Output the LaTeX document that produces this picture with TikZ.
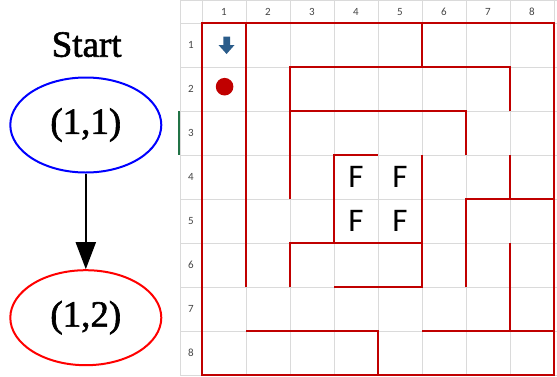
\documentclass[tikz,border=0pt]{standalone}
\usepackage{fontspec}
\setmainfont{Liberation Serif}
\newfontfamily\gvfont[FakeBold=1.6]{Liberation Serif}
\newfontfamily\cellfont{Carlito}
\usepackage{tikz}
\usetikzlibrary{arrows.meta, shapes.geometric}
\definecolor{wallred}{HTML}{C00000}
\definecolor{gridgray}{HTML}{DADADA}
\definecolor{iconblue}{HTML}{2A5C8A}
\definecolor{selgreen}{HTML}{217346}
\definecolor{hdrtext}{HTML}{444444}
\tikzset{
  gvtext/.style={font=\gvfont\fontsize{37}{37}\selectfont},
  cellnode/.style={gvtext, ellipse, draw, line width=2pt, minimum width=151pt, minimum height=95pt,
    inner sep=0pt},
  trans/.style={line width=2pt, -{Triangle[length=27pt, width=20pt]}},
  wall/.style={wallred, line width=2.8pt},
  gline/.style={gridgray, line width=0.8pt},
  hdr/.style={font=\cellfont\fontsize{11}{11}\selectfont, text=hdrtext, inner sep=0pt},
  goal/.style={font=\cellfont\fontsize{33}{33}\selectfont, inner sep=0pt}
}

\begin{document}
\begin{tikzpicture}[x=1pt, y=-1pt]
            \useasboundingbox (0,0) rectangle (557,376);
            \node[gvtext, inner sep=0pt, anchor=base] (start) at (86.7,56.7) {Start};
            \node[cellnode, draw=blue] (n11) at (85.8,125) {(1,1)};
            \node[cellnode, draw=red] (n12) at (85.8,317.7) {(1,2)};
            \draw[trans] (n11) -- (n12);
            \foreach \i in {0,...,8} {
                \draw[gline] (202+44*\i,0) -- (202+44*\i,376);
                \draw[gline] (180,23+44*\i) -- (557,23+44*\i);
            }
            \draw[gline] (180,0.5) -- (557,0.5);
            \draw[gline] (180,0) -- (180,376);
            \draw[selgreen, line width=2pt] (179,111) -- (179,155);
            \foreach \i in {1,...,8} {
                \node[hdr] (col\i) at (180+44*\i,12) {\i};
                \node[hdr] (row\i) at (191,1+44*\i) {\i};
            }
            \begin{scope}[shift={(202,23)}, x=44pt, y=-44pt]
                \draw[wall] (0,0) rectangle (8,8);
                \draw[wall] (1,0) -- (1,6);
                \draw[wall] (5,0) -- (5,1);
                \draw[wall] (2,4) -- (2,1) -- (7,1) -- (7,2);
                \draw[wall] (2,2) -- (6,2) -- (6,3);
                \draw[wall] (4,3) -- (3,3) -- (3,5);
                \draw[wall] (2,6) -- (2,5) -- (5,5);
                \draw[wall] (5,3) -- (5,6) -- (3,6);
                \draw[wall] (7,3) -- (7,4);
                \draw[wall] (6,6) -- (6,4) -- (8,4);
                \draw[wall] (7,5) -- (7,7);
                \draw[wall] (5,7) -- (8,7);
                \draw[wall] (1,7) -- (4,7) -- (4,8);
                \foreach \c/\r in {4/4, 5/4, 4/5, 5/5}
                    \node[goal] (f\c\r) at (\c-0.5,\r-0.5) {F};
            \end{scope}
            \fill[iconblue] (223.3,36.7) -- (230,36.7) -- (230,45) -- (234.5,45) -- (226.6,54)
                -- (218.5,45) -- (223.3,45) -- cycle;
            \fill[wallred] (224.6,86.7) circle (8.8);
        \end{tikzpicture}
\end{document}
